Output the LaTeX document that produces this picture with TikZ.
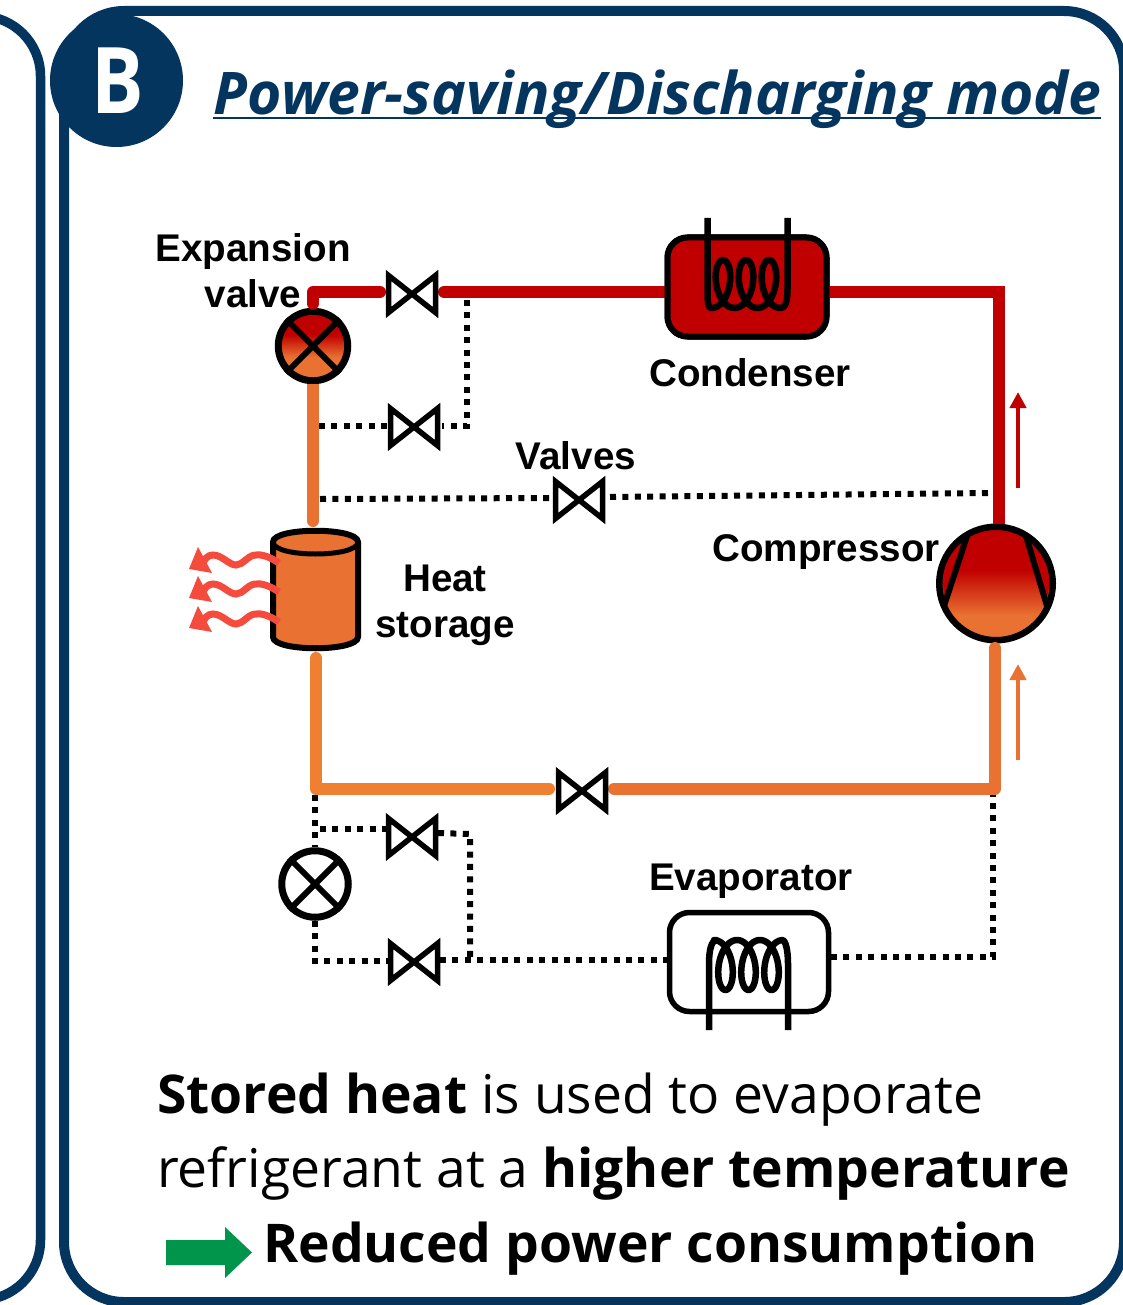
\documentclass[tikz,border=0pt]{standalone}
\usepackage{fontspec}
\usepackage{graphicx}
\setmainfont{Open Sans}
\newfontfamily\labfont{Liberation Sans}
\usetikzlibrary{arrows.meta,calc}
\definecolor{navy}{HTML}{03355F}
\definecolor{redp}{HTML}{C00000}
\definecolor{orgp}{HTML}{E97132}
\definecolor{orgq}{HTML}{EF7F31}
\definecolor{heatc}{HTML}{F44B3D}
\definecolor{greenc}{HTML}{00954A}
\pgfdeclareverticalshading{expshade}{100bp}{color(0bp)=(orgp); color(42bp)=(orgp); color(58bp)=(redp); color(100bp)=(redp)}
\pgfdeclareverticalshading{compshade}{100bp}{color(0bp)=(orgp); color(36bp)=(orgp); color(56bp)=(redp); color(100bp)=(redp)}
\tikzset{
  x=1pt,y=-1pt,
  frame/.style={draw=navy,line width=10pt},
  piper/.style={draw=redp,line width=12pt,line cap=round,line join=round},
  pipeo/.style={draw=orgp,line width=12pt,line cap=round,line join=round},
  pipeq/.style={draw=orgq,line width=12pt,line cap=round,line join=round},
  dots/.style={draw=black,line width=6pt,dash pattern=on 6pt off 6.4pt},
  valvebox/.style={inner sep=0pt,minimum width=52pt,minimum height=42pt},
  valveline/.style={draw=black,fill=white,line width=5.5pt},
  lab/.style={font=\labfont\bfseries\fontsize{38.6}{46}\selectfont,inner sep=0pt,text=black,align=center},
  body/.style={font=\fontsize{53.4}{60}\selectfont,inner sep=0pt,anchor=base west,text=black},
  coilbox/.style={draw=black,line width=6pt,rounded corners=20pt,minimum width=159pt,minimum height=99pt,inner sep=0pt},
  coilline/.style={draw=black,line width=6.5pt,line join=round},
  xvalve/.style={circle,draw=black,line width=7pt,inner sep=0pt,minimum size=66.5pt},
  xline/.style={draw=black,line width=6pt},
}
\newcommand{\valve}[3]{%
  \node[valvebox] (#1) at (#2,#3) {};
  \draw[valveline,shift={(#1.center)}] (-23.5,-18.5) -- (23.5,18.5) -- (23.5,-18.5) -- (-23.5,18.5) -- cycle;
}
\begin{document}
\begin{tikzpicture}
\clip (0,0) rectangle (1123,1305);
\fill[white] (0,0) rectangle (1123,1305);
% panels
\draw[frame,rounded corners=60pt] (64,11) rectangle (1124,1302);
\draw[frame,line width=9.5pt,rounded corners=60pt] (-100,16) rectangle (40.5,1300);
\node[circle,fill=navy,minimum size=133pt,inner sep=0pt] (badge) at (116.5,80.5) {};
\node[font=\bfseries\fontsize{92}{92}\selectfont,text=white,inner sep=0pt,anchor=base] (blet) at (118,114) {\scalebox{.85}[1]{B}};
\node[font=\bfseries\itshape\fontsize{58.8}{60}\selectfont,text=navy,inner sep=0pt,anchor=base west] (title) at (213.5,114.5) {Power-saving/Discharging mode};
\draw[navy,line width=2pt] (213,118) -- (1101,118);

% named positions
\node[xvalve,minimum size=69.5pt,shading=expshade] (expv) at (313,346) {};
\node[coilbox,fill=redp] (cond) at (747,287) {};
\node[inner sep=0pt,minimum width=88pt,minimum height=120pt] (store) at (316,590) {};
\node[xvalve,minimum size=113.5pt,line width=6.5pt,shading=compshade] (comp) at (996,583.5) {};
\node[xvalve,fill=white] (lowv) at (315,884) {};
\node[coilbox,fill=white,line width=5.5pt] (evap) at (749,962) {};
\coordinate (ctr) at (999,292);
\coordinate (ctl) at (313,292);
\coordinate (cbl) at (316,788.5);
\coordinate (cbr) at (995,788.5);
\coordinate (dtr) at (467,426);
\coordinate (dtt) at (467,300);
\coordinate (dtl) at (319,426);
\coordinate (dml) at (320,499);
\coordinate (dmr) at (990,493);
\coordinate (dlt) at (315,795);
\coordinate (dlb) at (315,961);
\coordinate (dl1) at (320,829);
\coordinate (dr1) at (470,834);
\coordinate (dr2) at (470,958);
\coordinate (de1) at (993,957);
\coordinate (de2) at (993,795);

% dotted connectors
\draw[dots] (dtt) -- (dtr) -- (442,426);
\draw[dots] (dtl) -- (388,426);
\draw[dots] (dml) -- (553,498);
\draw[dots] (610,497) -- (dmr);
\draw[dots] (dlt) -- (lowv.north);
\draw[dots] (dl1) -- (386,829);
\draw[dots] (438,833) -- (dr1) -- (dr2);
\draw[dots] (lowv.south) -- (dlb) -- (388,961);
\draw[dots] (440,960) -- (667,960);
\draw[dots] (831,957) -- (de1) -- (de2);

% pipes
\draw[piper] ([yshift=4pt]expv.north) -- (ctl) -- (380,292);
\draw[piper] (444,292) -- (cond.west |- ctr);
\draw[piper,line cap=butt,line join=miter] (cond.east |- ctr) -- (ctr) -- (ctr |- comp.north);
\draw[pipeo,line cap=butt] (expv.south) -- (313,510);
\draw[pipeo] (313,510) -- (313,521);
\draw[pipeq] (316,658) -- (cbl) -- (549,788.5);
\draw[pipeo] (614,788.5) -- (cbr) -- (995,648);

% condenser redraw on top of pipe ends
\node[coilbox,fill=redp] at (cond.center) {};

% expansion valve cross
\draw[xline] (expv.45) -- (expv.225);
\draw[xline] (expv.135) -- (expv.-45);
\draw[xline] (lowv.45) -- (lowv.225);
\draw[xline] (lowv.135) -- (lowv.-45);

% valves
\valve{vt}{412}{294}
\valve{vu}{414}{427}
\valve{vm}{579}{500}
\valve{vb}{582}{791}
\valve{vl}{412}{837}
\valve{vk}{414}{962}

% condenser coil
\draw[coilline] (707.5,218) -- (707.5,288) .. controls (707.5,303) and (708,308) .. (711,308)
  -- plot[domain=-pi:5*pi,samples=150,smooth] ({723+23*\x/(2*pi)-12.5*sin(\x r)},{284-24*cos(\x r)})
  .. controls (785,308) and (787.5,303) .. (787.5,288) -- (787.5,218);
% evaporator coil
\draw[coilline] (709,1030) -- (709,964) .. controls (709,948) and (712,941) .. (716,940)
  -- plot[domain=-pi:5*pi,samples=150,smooth] ({725.5+23*\x/(2*pi)-12.5*sin(\x r)},{965+25*cos(\x r)})
  .. controls (785,941) and (788,948) .. (788,964) -- (788,1030);

% compressor
\begin{scope}
\clip (comp.center) circle (53pt);
\fill[redp] (967,537) -- (944,605) -- (930,560) -- (950,525) -- cycle;
\fill[redp] (1026,537) -- (1047,605) -- (1062,560) -- (1040,525) -- cycle;
\end{scope}
\draw[xline] (967,536) -- (944,606);
\draw[xline] (1026,536) -- (1047,606);

% storage tank
\draw[draw=black,fill=orgp,line width=6pt] (273,542) -- (273,637) .. controls (273,652) and (358,652) .. (358,637) -- (358,542)
  .. controls (358,527) and (273,527) .. (273,542) -- cycle;
\draw[draw=black,line width=5pt] (273,542) .. controls (273,558) and (358,558) .. (358,542);

% heat arrows
\foreach \dy in {0,29,59} {
  \begin{scope}[shift={(0,\dy)}]
    \draw[heatc,line width=7pt] (279,563) .. controls (270,557) and (262,554) .. (255,555)
       .. controls (247,556) and (243,565) .. (236,565)
       .. controls (229,565) and (222,555) .. (213,555)
       .. controls (208,555) and (204,559) .. (203,564);
    \fill[heatc] (198,547) -- (189,569) -- (212,573) -- cycle;
  \end{scope}
}

% flow arrows
\coordinate (fa1) at (1018,488);
\coordinate (fa2) at (1018,392);
\coordinate (fb1) at (1018,760);
\coordinate (fb2) at (1018,664);
\draw[line width=4pt,draw=redp,-{Triangle[width=16pt,length=16pt,fill=redp]}] (fa1) -- (fa2);
\draw[line width=4pt,draw=orgp,-{Triangle[width=16pt,length=16pt,fill=orgp]}] (fb1) -- (fb2);

% labels
\node[lab] (lexp) at (253,271) {Expansion\\valve};
\node[lab,anchor=base] (lcond) at (750,386) {Condenser};
\node[lab,anchor=base] (lval) at (576,469) {Valves};
\node[lab] (lheat) at (445,605) {Heat\\storage};
\node[lab,anchor=base] (lcomp) at (826,561) {Compressor};
\node[lab,anchor=base] (levap) at (751,890) {Evaporator};

% caption
\node[body] (t1) at (157,1113) {\textbf{Stored heat} is used to evaporate};
\node[body] (t2) at (157,1187.5) {refrigerant at a \textbf{higher temperature}};
\node[body] (t3) at (263,1262) {\textbf{Reduced power consumption}};
\fill[greenc] (166,1240) -- (225,1240) -- (225,1227) -- (252,1252.5) -- (225,1278) -- (225,1265) -- (166,1265) -- cycle;
\end{tikzpicture}
\end{document}
